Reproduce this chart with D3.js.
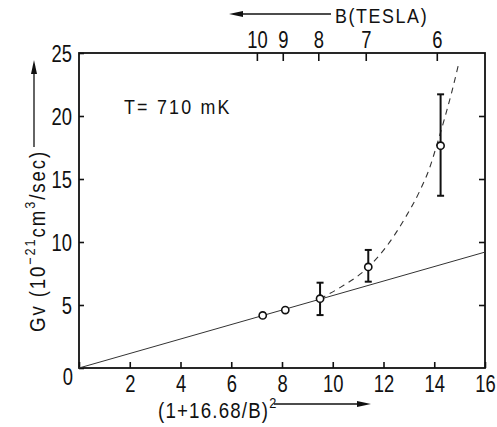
<!DOCTYPE html>
<html><head><meta charset="utf-8">
<script src="https://cdn.jsdelivr.net/npm/d3@7"></script>
<style>
html,body{margin:0;padding:0;background:#fff;}
text{font-family:"Liberation Sans","DejaVu Sans",sans-serif;fill:#111;}
</style></head>
<body>
<svg id="c" width="497" height="427"></svg>
<script>
// ---- data ----
const xTickValues = [0, 2, 4, 6, 8, 10, 12, 14, 16];
const yTickValues = [0, 5, 10, 15, 20, 25];
const bTickValues = [10, 9, 8, 7, 6];
const bTickAt = [7.01, 8.03, 9.43, 11.30, 14.10];   // positions of B ticks on the (1+16.68/B)^2 scale, as drawn
const pointX = [7.24, 8.13, 9.50, 11.40, 14.25];
const pointY = [4.17, 4.60, 5.50, 8.02, 17.64];
const errLow  = [null, null, 4.20, 6.85, 13.67];
const errHigh = [null, null, 6.77, 9.37, 21.72];
const fitX = [0, 16];
const fitY = [0, 9.2];
const dashX = [9.50, 10.30, 11.40, 12.10, 12.85, 13.44, 13.83, 14.10, 14.42, 14.69, 14.95];
const dashY = [5.50, 6.40, 8.00, 9.60, 11.90, 14.10, 15.95, 17.70, 19.90, 21.90, 24.05];
const label = "T= 710 mK";

// ---- layout ----
const svg = d3.select("#c");
const L = 79, R = 485, T = 53, B = 368;
const x = d3.scaleLinear().domain([0, 16]).range([L, R]);
const y = d3.scaleLinear().domain([0, 25]).range([B, T]);

function narrow(sel, s) {
  sel.each(function () {
    const t = d3.select(this);
    const tx = +t.attr("x") || 0, ty = +t.attr("y") || 0;
    t.attr("x", null).attr("y", null).attr("transform", `translate(${tx},${ty}) scale(${s},1)`);
  });
}

// axes
const gBottom = svg.append("g").attr("transform", `translate(0,${B})`)
  .call(d3.axisBottom(x).tickValues(xTickValues).tickSizeInner(-6).tickSizeOuter(0).tickPadding(8)
    .tickFormat(d => d === 0 ? "" : d));
const gLeft = svg.append("g").attr("transform", `translate(${L},0)`)
  .call(d3.axisLeft(y).tickValues(yTickValues).tickSizeInner(-5).tickSizeOuter(0).tickPadding(7)
    .tickFormat(d => d === 0 ? "" : d));
const gRight = svg.append("g").attr("transform", `translate(${R},0)`)
  .call(d3.axisRight(y).tickValues(yTickValues.slice(1, -1)).tickSizeInner(-6).tickSizeOuter(0).tickFormat(""));
const gTop = svg.append("g").attr("transform", `translate(0,${T})`)
  .call(d3.axisTop(x).tickValues(bTickAt).tickSizeInner(-8).tickSizeOuter(0).tickPadding(5)
    .tickFormat((d, i) => bTickValues[i]));

[gBottom, gLeft, gRight, gTop].forEach(g => {
  g.select(".domain").remove();
  g.selectAll("line").attr("stroke", "#111").attr("stroke-width", 1.6);
  g.selectAll("text").attr("font-size", 23).attr("fill", "#111").attr("font-family", null);
  narrow(g.selectAll("text"), 0.8);
});
gLeft.selectAll("text").attr("dy", "0.36em");

// zero label at origin
narrow(svg.append("text").attr("x", x(0) - 6).attr("y", y(0) + 17).attr("text-anchor", "end")
  .attr("font-size", 23).text("0"), 0.8);

// frame
svg.append("rect").attr("x", L).attr("y", T).attr("width", R - L).attr("height", B - T)
  .attr("fill", "none").attr("stroke", "#111").attr("stroke-width", 1.8);

// fit line
svg.append("line").attr("x1", x(fitX[0])).attr("y1", y(fitY[0])).attr("x2", x(fitX[1])).attr("y2", y(fitY[1]))
  .attr("stroke", "#333").attr("stroke-width", 1);

// dashed curve
const dashPts = dashX.map((d, i) => [d, dashY[i]]);
svg.append("path").attr("d", d3.line().x(d => x(d[0])).y(d => y(d[1])).curve(d3.curveMonotoneX)(dashPts))
  .attr("fill", "none").attr("stroke", "#333").attr("stroke-width", 1.1).attr("stroke-dasharray", "6,5");

// error bars
pointX.forEach((px, i) => {
  if (errLow[i] === null) return;
  const cx = x(px);
  const g = svg.append("g").attr("stroke", "#111").attr("stroke-width", 2);
  g.append("line").attr("x1", cx).attr("x2", cx).attr("y1", y(errLow[i])).attr("y2", y(errHigh[i]));
  g.append("line").attr("x1", cx - 3.5).attr("x2", cx + 3.5).attr("y1", y(errLow[i])).attr("y2", y(errLow[i]));
  g.append("line").attr("x1", cx - 3.5).attr("x2", cx + 3.5).attr("y1", y(errHigh[i])).attr("y2", y(errHigh[i]));
});

// points
svg.selectAll("circle.pt").data(pointX).enter().append("circle").attr("class", "pt")
  .attr("cx", d => x(d)).attr("cy", (d, i) => y(pointY[i])).attr("r", 3.6)
  .attr("fill", "#fff").attr("stroke", "#111").attr("stroke-width", 1.6);

// annotation
narrow(svg.append("text").attr("x", 124).attr("y", 114).attr("font-size", 21).attr("letter-spacing", 2.6).text(label), 0.85);

// arrow helper
function arrow(x1, y1, x2, y2) {
  const ang = Math.atan2(y2 - y1, x2 - x1), len = 14, hw = 3;
  const bx = x2 - len * Math.cos(ang), by = y2 - len * Math.sin(ang);
  svg.append("line").attr("x1", x1).attr("y1", y1).attr("x2", bx).attr("y2", by)
    .attr("stroke", "#111").attr("stroke-width", 1.3);
  const px = -Math.sin(ang) * hw, py = Math.cos(ang) * hw;
  svg.append("path").attr("d", `M${x2},${y2}L${bx + px},${by + py}L${bx - px},${by - py}Z`).attr("fill", "#111");
}

// top title
narrow(svg.append("text").attr("x", 335).attr("y", 23).attr("font-size", 21).attr("letter-spacing", 1.9).text("B(TESLA)"), 0.85);
arrow(331, 14, 229, 14);

// bottom title
const bt = svg.append("text").attr("x", 158).attr("y", 418).attr("font-size", 22).attr("letter-spacing", 1.4);
bt.append("tspan").text("(1+16.68/B)");
bt.append("tspan").attr("dy", -10).attr("font-size", 15).text("2");
narrow(bt, 0.85);
arrow(274, 404, 371, 404);

// y title
const yt = svg.append("text").attr("transform", "translate(45,150) rotate(-90) scale(0.85,1)")
  .attr("text-anchor", "end").attr("font-size", 22).attr("letter-spacing", 2.2);
yt.append("tspan").text("Gv (10");
yt.append("tspan").attr("dy", -10).attr("font-size", 15).text("\u221221");
yt.append("tspan").attr("dy", 10).text("cm");
yt.append("tspan").attr("dy", -10).attr("font-size", 15).text("3");
yt.append("tspan").attr("dy", 10).text("/sec)");
arrow(34, 147, 34, 60);
</script>
</body></html>
